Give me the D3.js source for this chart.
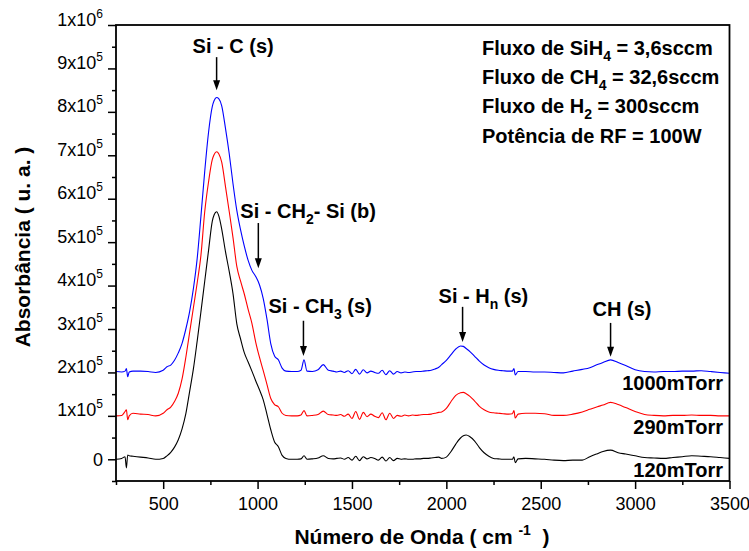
<!DOCTYPE html>
<html>
<head>
<meta charset="utf-8">
<script src="https://cdnjs.cloudflare.com/ajax/libs/d3/7.8.5/d3.min.js"></script>
<style>
body { margin: 0; background: #fff; }
text { font-family: "Liberation Sans", Arial, sans-serif; white-space: pre; }
</style>
</head>
<body>
<script>
// wavenumber (cm-1), shared by the three spectra
var wavenumber = [
	250, 280, 298, 305, 312, 320, 340, 380, 420, 460,
	500, 520, 540, 560, 580, 600, 620, 640, 660, 680,
	700, 720, 740, 760, 770, 783, 795, 810, 830, 850,
	870, 890, 910, 930, 950, 970, 990, 1010, 1030, 1050,
	1070, 1090, 1110, 1130, 1150, 1180, 1210, 1230, 1246, 1262,
	1290, 1320, 1348, 1375, 1400,
	1420, 1440, 1460, 1480, 1500, 1520, 1540, 1560, 1580, 1600,
	1620, 1640, 1660, 1680, 1700, 1720, 1740, 1760, 1780, 1800,
	1820, 1840, 1860, 1880, 1900, 1920, 1940, 1960,
	1975, 2000, 2025, 2050, 2075, 2090, 2105, 2125, 2150, 2175,
	2200, 2225, 2250, 2275, 2300, 2330, 2350, 2358, 2365, 2380,
	2420, 2470, 2520, 2570, 2620, 2670, 2720, 2760, 2800, 2830,
	2870, 2910, 2950, 3000, 3050, 3100, 3150, 3200, 3250, 3300,
	3350, 3400, 3450, 3500
];

// absorbance in units of 10^3 (already stacked as plotted)
var abs1000 = [
	202, 201, 203, 209, 190, 201, 203, 203, 202, 200,
	205, 213, 217, 228, 245, 267, 300, 340, 393, 462,
	560, 663, 752, 812, 826, 833, 830, 814, 762, 703,
	634, 573, 528, 490, 458, 435, 421, 402, 370, 322,
	266, 238, 229, 210, 203, 202, 202, 205, 229, 203,
	202, 206, 218, 205, 203,
	201, 203, 200, 204, 197, 207, 196, 206, 199, 203,
	200, 198, 205, 195, 204, 196, 202, 199, 201, 200,
	201, 202, 202, 203, 204, 205, 208, 212,
	218, 228, 241, 254, 261, 260, 255, 248, 237, 226,
	217, 211, 207, 205, 204, 203, 203, 209, 194, 202,
	202, 201, 201, 200, 199, 203, 207, 211, 218, 223,
	229, 223, 216, 206, 202, 201, 202, 202, 203, 203,
	204, 202, 200, 198
];
var abs290 = [
	100, 101, 110, 114, 91, 100, 106, 104, 103, 100,
	106, 114, 120, 133, 152, 185, 235, 292, 349, 406,
	470, 570, 638, 690, 702, 708, 703, 684, 628, 570,
	510, 444, 410, 380, 345, 313, 270, 235, 204, 172,
	140, 126, 121, 106, 101, 100, 100, 102, 112, 100,
	101, 103, 111, 103, 102,
	101, 103, 99, 104, 94, 110, 92, 108, 98, 104,
	99, 96, 107, 91, 106, 94, 101, 99, 102, 100,
	102, 101, 102, 103, 103, 104, 106, 108,
	109, 117, 133, 147, 153, 154, 151, 145, 134, 122,
	114, 109, 107, 106, 105, 104, 105, 112, 95, 104,
	106, 106, 105, 101, 101, 104, 109, 115, 121, 125,
	131, 126, 119, 110, 103, 101, 100, 101, 101, 102,
	101, 101, 100, 100
];
var abs120 = [
	0, 2, 6, -20, 10, 8, 7, 5, 3, 0,
	2, 8, 16, 28, 45, 70, 105, 156, 208, 272,
	340, 410, 480, 548, 563, 570, 560, 530, 478, 432,
	381, 312, 277, 245, 224, 203, 181, 160, 137, 103,
	68, 40, 29, 9, 2, 0, 0, 1, 8, 0,
	1, 3, 8, 2, 1,
	2, 3, 0, 4, -2, 7, -3, 6, 1, 4,
	2, -2, 5, -4, 4, -3, 2, 0, 1, 0,
	0, 1, 1, 2, 2, 3, 4, 5,
	2, 5, 18, 35, 49, 54, 56, 52, 42, 27,
	15, 7, 2, 1, 0, 0, 0, 6, -8, 1,
	2, 1, 0, -2, -3, -2, -2, 6, 13, 18,
	21, 15, 12, 8, 4, 3, 2, 4, 6, 8,
	7, 6, 4, 2
];

var seriesNames = ["1000mTorr", "290mTorr", "120mTorr"];
var seriesValues = [abs1000, abs290, abs120];
var seriesColors = ["#0000ff", "#ff0000", "#000000"];
var seriesOffsets = [200, 100, 0];

var xTicks = [500, 1000, 1500, 2000, 2500, 3000, 3500];
var xMinorTicks = [250, 750, 1250, 1750, 2250, 2750, 3250];
var yTicks = [0, 100, 200, 300, 400, 500, 600, 700, 800, 900, 1000];
var yMinorTicks = [-50, 50, 150, 250, 350, 450, 550, 650, 750, 850, 950];

var peakLabels = ["Si - C (s)", "Si - CH_{2}- Si (b)", "Si - CH_{3} (s)", "Si - H_{n} (s)", "CH (s)"];
var peakWavenumbers = [783, 1004, 1243, 2086, 2870];

var conditions = [
	"Fluxo de SiH_{4} = 3,6sccm",
	"Fluxo de CH_{4} = 32,6sccm",
	"Fluxo de H_{2} = 300sccm",
	"Potência de RF = 100W"
];

var width = 749, height = 551;

var x = d3.scaleLinear().domain([250, 3500]).range([116, 729.5]);
var y = d3.scaleLinear().domain([-50, 1000]).range([481, 25]);

var svg = d3.select("body")
	.append("svg")
	.attr("width", width)
	.attr("height", height);

// text with _{sub} and ^{sup} parts
function richText(sel, str, smallSize, subShift, supShift) {
	var parts = str.split(/(_\{[^}]*\}|\^\{[^}]*\})/).filter(function(p) { return p !== ""; });
	var shift = 0;
	parts.forEach(function(p) {
		var dy = 0, txt = p, small = false;
		if (p[0] === "_") { txt = p.slice(2, -1); dy = subShift; small = true; }
		else if (p[0] === "^") { txt = p.slice(2, -1); dy = -supShift; small = true; }
		var ts = sel.append("tspan").text(txt).attr("dy", dy - shift);
		if (small) ts.attr("font-size", smallSize);
		shift = dy;
	});
}

// spectra
var line = d3.line()
	.x(function(d) { return x(d[0]); })
	.y(function(d) { return y(d[1]); })
	.curve(d3.curveMonotoneX);

seriesValues.forEach(function(vals, i) {
	var pts = wavenumber.map(function(w, j) { return [w, vals[j]]; });
	svg.append("path")
		.attr("d", line(pts))
		.attr("fill", "none")
		.attr("stroke", seriesColors[i])
		.attr("stroke-width", 1.1);
});

// axes
var xAxis = svg.append("g")
	.attr("transform", "translate(0," + y(-50) + ")")
	.call(d3.axisBottom(x).tickValues(xTicks).tickSize(8).tickSizeOuter(0).tickPadding(8).tickFormat(d3.format("d")));
var xMinor = svg.append("g")
	.attr("transform", "translate(0," + y(-50) + ")")
	.call(d3.axisBottom(x).tickValues(xMinorTicks).tickSize(4).tickSizeOuter(0).tickFormat(""));

var yAxis = svg.append("g")
	.attr("transform", "translate(" + x(250) + ",0)")
	.call(d3.axisLeft(y).tickValues(yTicks).tickSize(8).tickSizeOuter(0).tickPadding(5).tickFormat(""));
var yMinor = svg.append("g")
	.attr("transform", "translate(" + x(250) + ",0)")
	.call(d3.axisLeft(y).tickValues(yMinorTicks).tickSize(4).tickSizeOuter(0).tickFormat(""));

[xAxis, xMinor, yAxis, yMinor].forEach(function(g) {
	g.select(".domain").remove();
	g.selectAll(".tick line").attr("stroke", "#000").attr("stroke-width", 1.5);
});

xAxis.selectAll(".tick text")
	.attr("font-size", 18)
	.attr("fill", "#000")
	.attr("font-family", "Liberation Sans, Arial, sans-serif");

yAxis.selectAll(".tick text")
	.attr("font-size", 18)
	.attr("fill", "#000")
	.attr("font-family", "Liberation Sans, Arial, sans-serif")
	.each(function(d) {
		var t = d3.select(this);
		if (d === 0) { t.text("0"); return; }
		var lab = d === 1000 ? "1x10^{6}" : (d / 100) + "x10^{5}";
		richText(t, lab, 12, 0, 8);
	});

// frame
svg.append("rect")
	.attr("x", x(250))
	.attr("y", y(1000))
	.attr("width", x(3500) - x(250))
	.attr("height", y(-50) - y(1000))
	.attr("fill", "none")
	.attr("stroke", "#000")
	.attr("stroke-width", 1.8);

// axis titles
var xt = svg.append("text")
	.attr("x", 422)
	.attr("y", 544)
	.attr("text-anchor", "middle")
	.attr("font-size", 21)
	.attr("font-weight", "bold");
richText(xt, "Número de Onda ( cm ^{-1}  )", 14, 0, 9);

var yt = svg.append("text")
	.attr("transform", "translate(30,247) rotate(-90)")
	.attr("text-anchor", "middle")
	.attr("font-size", 21)
	.attr("font-weight", "bold")
	.text("Absorbância ( u. a. )");

// peak assignments
var arrowTop = [926, 544, 319, 351, 314];
var arrowTip = [850, 440, 238, 270, 236];
var labelDx = [-24, -18, -35, -24, -18];
var labelBase = [935, 555, 336, 361, 330];

peakLabels.forEach(function(lab, i) {
	var px = x(peakWavenumbers[i]);
	var t = svg.append("text")
		.attr("x", px + labelDx[i])
		.attr("y", y(labelBase[i]))
		.attr("font-size", 20)
		.attr("font-weight", "bold");
	richText(t, lab, 14, 6, 0);

	var tip = y(arrowTip[i]);
	svg.append("line")
		.attr("x1", px).attr("x2", px)
		.attr("y1", y(arrowTop[i])).attr("y2", tip - 8)
		.attr("stroke", "#000")
		.attr("stroke-width", 1.5);
	svg.append("path")
		.attr("d", "M" + (px - 3.5) + "," + (tip - 10) + "L" + (px + 3.5) + "," + (tip - 10) + "L" + px + "," + tip + "Z")
		.attr("fill", "#000");
});

// deposition conditions
conditions.forEach(function(c, i) {
	var t = svg.append("text")
		.attr("x", 482)
		.attr("y", 55 + i * 29.2)
		.attr("font-size", 20)
		.attr("font-weight", "bold");
	richText(t, c, 14, 6, 0);
});

// pressure labels
seriesNames.forEach(function(n, i) {
	svg.append("text")
		.attr("x", 723)
		.attr("y", y(seriesOffsets[i]) + 18)
		.attr("text-anchor", "end")
		.attr("font-size", 20)
		.attr("font-weight", "bold")
		.text(n);
});
</script>
</body>
</html>
